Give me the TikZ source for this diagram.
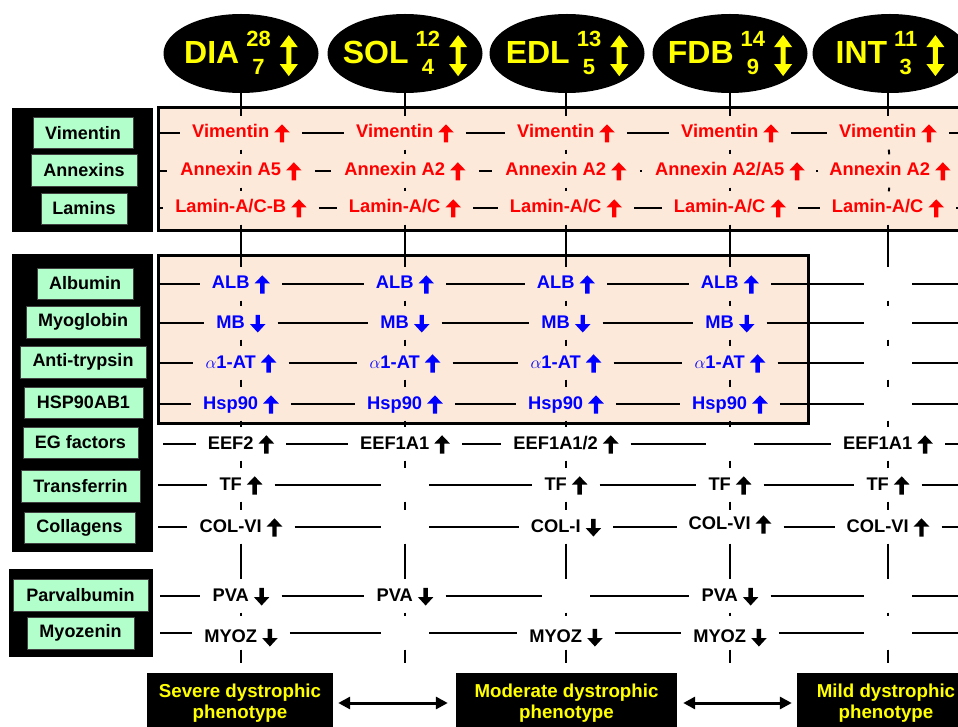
\documentclass[tikz,border=0pt]{standalone}
\usepackage{fontspec}
\setmainfont{Liberation Sans}
\usetikzlibrary{shapes.geometric,arrows.meta}
\definecolor{peach}{RGB}{253,233,218}
\definecolor{mint}{RGB}{178,255,204}
\definecolor{ared}{RGB}{255,0,0}
\definecolor{ablue}{RGB}{0,0,255}
\definecolor{ayel}{RGB}{255,255,0}
\newcommand{\uparr}{\tikz[baseline=0pt]\fill (-2.2pt,-4.5pt) -- (-2.2pt,5.5pt) -- (-7.8pt,5.5pt) -- (0pt,13.7pt) -- (7.8pt,5.5pt) -- (2.2pt,5.5pt) -- (2.2pt,-4.5pt) -- cycle;}
\newcommand{\dnarr}{\tikz[baseline=0pt]\fill (-2.2pt,13.2pt) -- (-2.2pt,4pt) -- (-7.8pt,4pt) -- (0pt,-4.5pt) -- (7.8pt,4pt) -- (2.2pt,4pt) -- (2.2pt,13.2pt) -- cycle;}
\newcommand{\updnarr}{\tikz[baseline=0pt]\fill (0pt,28pt) -- (9pt,16pt) -- (2.5pt,16pt) -- (2.5pt,-1pt) -- (9pt,-1pt) -- (0pt,-13pt) -- (-9pt,-1pt) -- (-2.5pt,-1pt) -- (-2.5pt,16pt) -- (-9pt,16pt) -- cycle;}
\newcommand{\nums}[2]{{\fontsize{22}{22}\selectfont\setbox0=\hbox{#1}\rlap{\raisebox{17pt}{#1}}\makebox[\wd0][c]{\raisebox{-11pt}{#2}}}}
\newcommand{\muscle}[3]{{\fontsize{32}{32}\selectfont #1}\hspace{7pt}\nums{#2}{#3}\hspace{9pt}\updnarr}
\newcommand{\U}{\hspace{5pt}\uparr}
\newcommand{\D}{\hspace{5pt}\dnarr}
\begin{document}
\begin{tikzpicture}[x=1pt,y=-1pt,
  cell/.style={font=\fontsize{18.3}{18}\selectfont\bfseries, inner xsep=12pt, inner ysep=0pt, text height=14pt, text depth=4pt, minimum height=33pt},
  rc/.style={cell, text=ared},
  rcw/.style={rc, inner xsep=13pt},
  bc/.style={cell, text=ablue},
  kc/.style={cell, text=black},
  emptycell/.style={minimum width=48pt, minimum height=33pt, inner sep=0pt},
  lab/.style={fill=mint, draw=black!75, line width=0.8pt, inner sep=0pt, font=\fontsize{18}{18}\selectfont\bfseries},
  ell/.style={ellipse, fill=black, minimum width=155pt, minimum height=79pt, inner sep=0pt},
  elltext/.style={text=ayel, font=\bfseries, inner sep=0pt},
  phen/.style={fill=black, text=ayel, font=\fontsize{18.7}{21}\selectfont\bfseries, align=center, inner sep=0pt, minimum height=60pt},
  peachbox/.style={fill=peach, draw=black, line width=3pt},
  panel/.style={fill=black},
  hl/.style={line width=1.8pt},
  vl/.style={line width=2pt},
  dbl/.style={{Triangle[length=12pt,width=12pt]}-{Triangle[length=12pt,width=12pt]}, line width=3pt}
]
\useasboundingbox (0,0) rectangle (958,727);

% left panels and peach boxes
\fill[panel] (12,108) rectangle (153,232);
\fill[panel] (12,254) rectangle (153,552);
\fill[panel] (9,569) rectangle (153,657);
\filldraw[peachbox] (158,108) rectangle (975,231);
\filldraw[peachbox] (158,256) rectangle (808,423);

% labels
\node[lab, minimum width=100pt, minimum height=31pt] (L1) at (83,133) {Vimentin};
\node[lab, minimum width=106pt, minimum height=32pt] (L2) at (84,170) {Annexins};
\node[lab, minimum width=86pt, minimum height=31pt] (L3) at (84,208.5) {Lamins};
\node[lab, minimum width=96pt, minimum height=31pt] (L4) at (85,283.5) {Albumin};
\node[lab, minimum width=114pt, minimum height=32pt] (L5) at (83,322) {Myoglobin};
\node[lab, minimum width=126pt, minimum height=32pt] (L6) at (83,362) {Anti-trypsin};
\node[lab, minimum width=119pt, minimum height=31pt] (L7) at (83.5,402.5) {HSP90AB1};
\node[lab, minimum width=115pt, minimum height=31pt] (L8) at (80.5,442.5) {EG factors};
\node[lab, minimum width=119pt, minimum height=32pt] (L9) at (80.5,486) {Transferrin};
\node[lab, minimum width=111pt, minimum height=31pt] (L10) at (79.5,527.5) {Collagens};
\node[lab, minimum width=135pt, minimum height=32pt] (L11) at (80.5,595) {Parvalbumin};
\node[lab, minimum width=107pt, minimum height=32pt] (L12) at (80.5,633) {Myozenin};

% muscle ellipses
\node[ell] (m1) at (241,53.5) {};
\node[ell] (m2) at (405,53.5) {};
\node[ell] (m3) at (567,53.5) {};
\node[ell] (m4) at (730,53.5) {};
\node[ell] (m5) at (890,53.5) {};
\node[elltext] (t1) at (m1) {\muscle{DIA}{28}{7}};
\node[elltext] (t2) at (m2) {\muscle{SOL}{12}{4}};
\node[elltext] (t3) at (m3) {\muscle{EDL}{13}{5}};
\node[elltext] (t4) at (m4) {\muscle{FDB}{14}{9}};
\node[elltext] (t5) at (m5) {\muscle{INT}{11}{3}};

% row 1 Vimentin
\node[rc] (c1-1) at (241,133) {Vimentin\U};
\node[rc] (c1-2) at (405,133) {Vimentin\U};
\node[rc] (c1-3) at (566,133) {Vimentin\U};
\node[rc] (c1-4) at (730,133) {Vimentin\U};
\node[rc] (c1-5) at (888,133) {Vimentin\U};
% row 2 Annexins
\node[rcw] (c2-1) at (241,171) {Annexin A5\U};
\node[rcw] (c2-2) at (405,171) {Annexin A2\U};
\node[rcw] (c2-3) at (566,171) {Annexin A2\U};
\node[rcw] (c2-4) at (730,171) {Annexin A2/A5\U};
\node[rcw] (c2-5) at (890,171) {Annexin A2\U};
% row 3 Lamins
\node[rc] (c3-1) at (241,208) {Lamin-A/C-B\U};
\node[rc] (c3-2) at (405,208) {Lamin-A/C\U};
\node[rc] (c3-3) at (566,208) {Lamin-A/C\U};
\node[rc] (c3-4) at (730,208) {Lamin-A/C\U};
\node[rc] (c3-5) at (888,208) {Lamin-A/C\U};
% row 4 Albumin
\node[bc] (c4-1) at (241,284) {ALB\U};
\node[bc] (c4-2) at (405,284) {ALB\U};
\node[bc] (c4-3) at (566,284) {ALB\U};
\node[bc] (c4-4) at (730,284) {ALB\U};
\node[emptycell] (c4-5) at (888,284) {};
% row 5 Myoglobin
\node[bc] (c5-1) at (241,323) {MB\D};
\node[bc] (c5-2) at (405,323) {MB\D};
\node[bc] (c5-3) at (566,323) {MB\D};
\node[bc] (c5-4) at (730,323) {MB\D};
\node[emptycell] (c5-5) at (888,323) {};
% row 6 anti-trypsin
\node[bc] (c6-1) at (241,363) {$\alpha$1-AT\U};
\node[bc] (c6-2) at (405,363) {$\alpha$1-AT\U};
\node[bc] (c6-3) at (566,363) {$\alpha$1-AT\U};
\node[bc] (c6-4) at (730,363) {$\alpha$1-AT\U};
\node[emptycell] (c6-5) at (888,363) {};
% row 7 Hsp90
\node[bc] (c7-1) at (241,404) {Hsp90\U};
\node[bc] (c7-2) at (405,404) {Hsp90\U};
\node[bc] (c7-3) at (566,404) {Hsp90\U};
\node[bc] (c7-4) at (730,404) {Hsp90\U};
\node[emptycell] (c7-5) at (888,404) {};
% row 8 EG factors
\node[kc] (c8-1) at (241,444) {EEF2\U};
\node[kc] (c8-2) at (405,444) {EEF1A1\U};
\node[kc] (c8-3) at (566,444) {EEF1A1/2\U};
\node[emptycell] (c8-4) at (730,444) {};
\node[kc] (c8-5) at (888,444) {EEF1A1\U};
% row 9 Transferrin
\node[kc] (c9-1) at (241,485) {TF\U};
\node[emptycell] (c9-2) at (405,485) {};
\node[kc] (c9-3) at (566,485) {TF\U};
\node[kc] (c9-4) at (730,485) {TF\U};
\node[kc] (c9-5) at (888,485) {TF\U};
% row 10 Collagens
\node[kc] (c10-1) at (241,527) {COL-VI\U};
\node[emptycell] (c10-2) at (405,527) {};
\node[kc] (c10-3) at (566,527) {COL-I\D};
\node[kc] (c10-4) at (730,527) {\raisebox{3pt}{COL-VI\U}};
\node[kc] (c10-5) at (888,527) {COL-VI\U};
% row 11 Parvalbumin
\node[kc] (c11-1) at (241,596) {PVA\D};
\node[kc] (c11-2) at (405,596) {PVA\D};
\node[emptycell] (c11-3) at (566,596) {};
\node[kc] (c11-4) at (730,596) {PVA\D};
\node[emptycell] (c11-5) at (888,596) {};
% row 12 Myozenin
\node[kc] (c12-1) at (241,633) {\raisebox{-4pt}{MYOZ\D}};
\node[emptycell] (c12-2) at (405,633) {};
\node[kc] (c12-3) at (566,633) {\raisebox{-4pt}{MYOZ\D}};
\node[kc] (c12-4) at (730,633) {\raisebox{-4pt}{MYOZ\D}};
\node[emptycell] (c12-5) at (888,633) {};

% row start / end coordinates
\foreach \r/\y/\sx in {1/133/158,2/171/158,3/208/158,4/284/158,5/323/158,6/363/158,7/404/158,8/444/163,9/485/158,10/527/158,11/596/160,12/633/160}{
  \coordinate (s\r) at (\sx,\y);
  \coordinate (e\r) at (962,\y);
}
\foreach \c/\x in {1/241,2/405,3/566,4/730,5/888}{
  \coordinate (b\c) at (\x,663);
  \coordinate (a\c) at (\x,93);
}

% horizontal lines
\foreach \r in {1,...,12}{
  \draw[hl] (s\r) -- (c\r-1);
  \foreach \a/\b in {1/2,2/3,3/4,4/5}{\draw[hl] (c\r-\a) -- (c\r-\b);}
  \draw[hl] (c\r-5) -- (e\r);
}
% vertical lines
\foreach \c in {1,...,5}{
  \draw[vl] (a\c) -- (c1-\c);
  \foreach \a/\b in {1/2,2/3,3/4,4/5,5/6,6/7,7/8,8/9,9/10,10/11,11/12}{\draw[vl] (c\a-\c) -- (c\b-\c);}
  \draw[vl] (c12-\c) -- (b\c);
}

% phenotypes
\node[phen, minimum width=186pt] (p1) at (240,703) {Severe dystrophic\\phenotype};
\node[phen, minimum width=221pt] (p2) at (566.5,703) {Moderate dystrophic\\phenotype};
\node[phen, minimum width=178pt] (p3) at (886,703) {Mild dystrophic\\phenotype};
\draw[dbl, shorten <=5pt, shorten >=8pt] (p1) -- (p2);
\draw[dbl, shorten <=6pt, shorten >=5pt] (p2) -- (p3);
\end{tikzpicture}
\end{document}
